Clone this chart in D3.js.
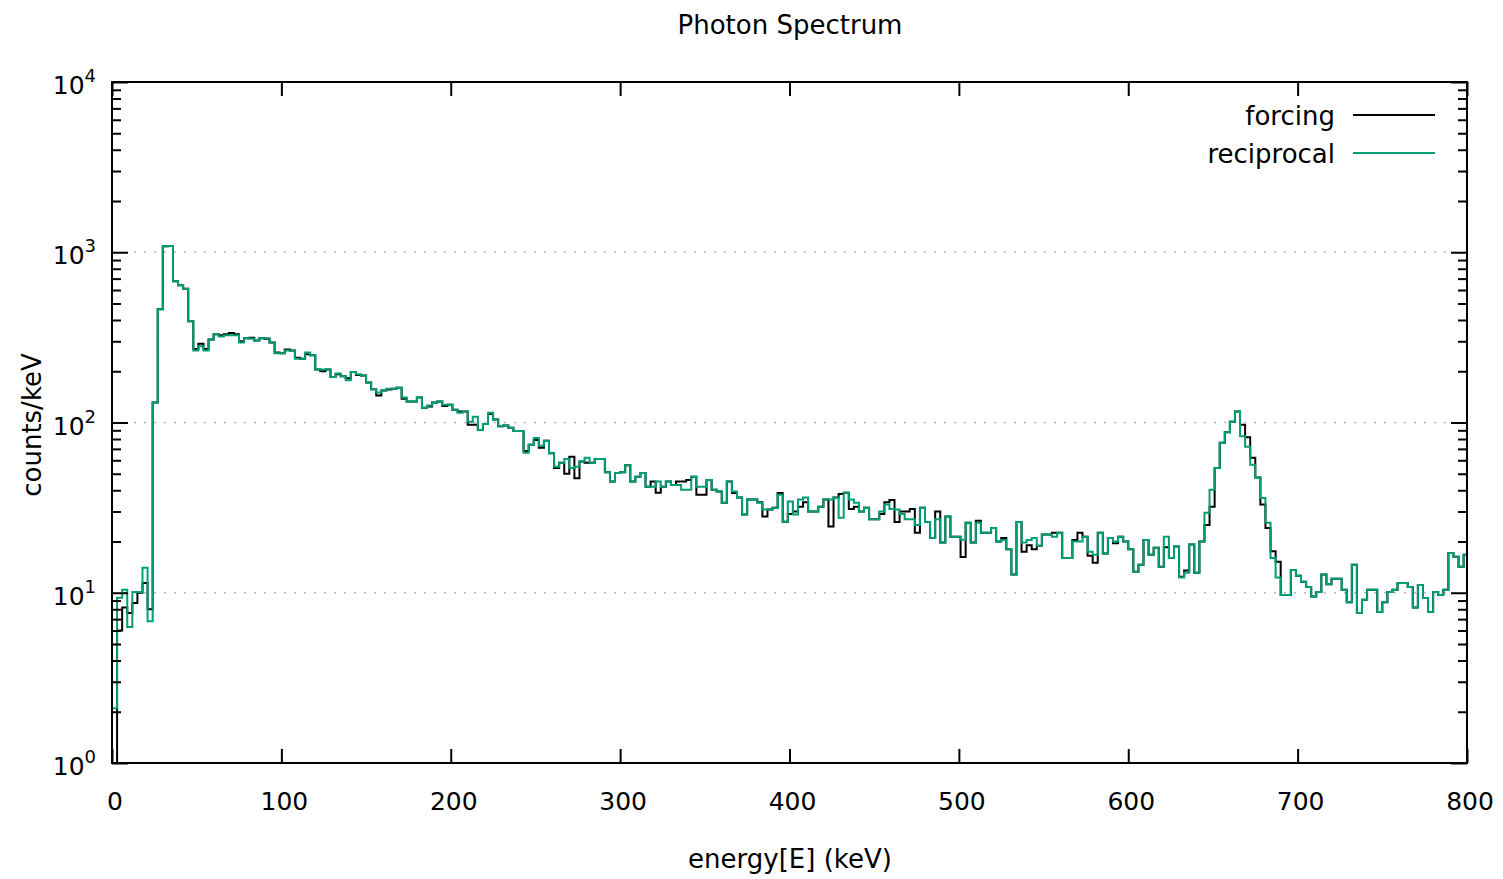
<!DOCTYPE html>
<html><head><meta charset="utf-8">
<script src="https://cdn.jsdelivr.net/npm/d3@7"></script>
<style>
body{margin:0;background:#fff}
svg{display:block}
text{font-family:"DejaVu Sans",sans-serif;fill:#000}
</style>
</head><body>
<svg id="c" width="1503" height="879"></svg>
<script>
// ---- data ----
const binWidth = 3; // keV per histogram bin
const binStart = d3.range(0, 800, binWidth); // 0,3,...,798

const forcing = [
1, 6.0, 8.2, 7.6, 8.7, 10, 11.4, 8.0, 131, 462,
1085, 1090, 676, 640, 610, 393, 270, 290, 270, 307,
330, 325, 330, 335, 330, 300, 313, 315, 303, 313,
310, 295, 258, 255, 268, 265, 240, 237, 252, 248,
205, 200, 205, 185, 192, 187, 182, 198, 190, 189,
172, 157, 144, 154, 156, 158, 160, 138, 133, 133,
140, 122, 124, 131, 133, 125, 127, 119, 116, 116,
97, 97, 90.5, 98, 112, 104, 95, 96, 93, 89,
89, 68, 74, 79, 71, 78, 66, 54, 58, 50,
63, 47, 59, 58, 58, 61, 61, 51, 45, 50.5,
51, 56, 45, 48, 50.5, 42, 45, 38.7, 42, 45,
43, 45, 45, 46, 48, 37.7, 37.7, 46, 40.3, 39.3,
33.8, 45, 38.5, 36.3, 28.8, 35.3, 35.3, 34, 28, 30.8,
31.6, 38.5, 26.1, 29, 30, 32, 34, 30, 30, 32,
35.3, 24.5, 36.3, 38, 38.7, 31, 32, 30, 31.6, 27,
27, 29, 34, 35, 26, 30, 30, 31, 22.5, 31.6,
26, 21, 30, 19.7, 28, 21.3, 21.3, 16.2, 25.8, 19.7,
26.5, 22.5, 22.5, 24, 20, 21, 18, 12.8, 26, 17.4,
19, 18, 18.9, 22, 22, 22.5, 22.5, 16, 16, 20.4,
22.5, 21.3, 16.5, 15, 22.5, 17, 21, 19.5, 21.3, 20,
18, 13.3, 14.6, 20.4, 16.7, 18.4, 14.2, 18.5, 16, 18.7,
12.4, 13.5, 19.2, 13.1, 20, 25, 32, 54, 76, 87.5,
101, 116, 97, 82, 62, 47.5, 33, 24, 17.5, 15.2,
9.7, 9.7, 13.6, 12.6, 11.6, 10.8, 9.5, 10.1, 12.8, 11.2,
12.1, 12.1, 10.4, 8.8, 14.6, 7.6, 9.1, 10.4, 10.4, 7.7,
8.8, 10.1, 10.4, 11.4, 11.4, 10.8, 8.2, 11.1, 9.3, 7.7,
10.1, 9.7, 10.4, 17.1, 16.3, 14.2, 16.7
];

const reciprocal = [
2.1, 9.35, 10.4, 6.3, 10.1, 10.1, 14, 6.8, 131, 462,
1085, 1090, 676, 640, 610, 393, 265, 280, 265, 307,
330, 320, 325, 325, 325, 295, 313, 310, 303, 313,
313, 295, 255, 255, 265, 265, 237, 237, 258, 248,
205, 205, 205, 185, 194, 187, 177, 198, 192, 189,
172, 157, 150, 154, 158, 158, 160, 140, 133, 133,
140, 122, 126, 131, 133, 127, 127, 119, 114, 116,
101, 108, 90.5, 98, 114, 104, 95, 96, 93, 89,
89, 66.5, 74, 81, 73, 78, 66, 55, 58, 61,
54, 55, 59, 62, 58, 61, 61, 51, 45, 50.5,
51, 56, 45, 48, 50.5, 42, 42, 45, 42, 45,
43, 43, 40.3, 40.3, 48, 42, 42, 46, 40.3, 39.3,
33.8, 45, 39.3, 36.3, 28.8, 35.3, 35.3, 33.8, 30.8, 30.8,
31.6, 37.7, 26.1, 34.3, 28.8, 35.3, 36.3, 30, 30, 32,
35.3, 35.3, 36.3, 27.6, 38.7, 35.3, 33.8, 30, 31.6, 27,
27, 30, 33, 31, 30.8, 29, 27, 27, 25, 31.6,
26, 21, 27, 19.7, 28, 21.3, 21.3, 20.5, 25.8, 19.7,
25.8, 22.5, 22.5, 24, 20, 20.4, 18, 12.8, 26, 19.7,
20.4, 21, 18.9, 22, 22, 21.3, 22.5, 16, 16, 20,
20, 21.3, 17.4, 16.7, 22.5, 17, 21, 20, 21.3, 20,
18, 13.3, 14.6, 20.4, 16.7, 18.4, 14.2, 21.3, 16, 18.7,
12.3, 13.1, 19.2, 13.1, 20, 29.5, 40.3, 54, 76, 87.5,
101, 116, 83, 72, 56.5, 47.5, 36, 25.8, 16, 12.3,
9.7, 9.7, 13.6, 12.6, 11.6, 10.8, 9.5, 10.1, 12.8, 11.2,
12.1, 12.1, 10.4, 8.8, 14.6, 7.6, 9.1, 10.4, 10.4, 7.7,
8.8, 10.1, 10.4, 11.4, 11.4, 10.8, 8.2, 11.1, 9.3, 7.7,
10.1, 9.7, 10.4, 17.1, 16.3, 14.2, 16.7
];

const xTicks = [0, 100, 200, 300, 400, 500, 600, 700, 800];
const yExponents = [0, 1, 2, 3, 4];
const gridExponents = [1, 2, 3];
const seriesNames = ["forcing", "reciprocal"];
const seriesColors = ["#000000", "#009e73"];
const titleText = "Photon Spectrum";
const xLabel = "energy[E] (keV)";
const yLabel = "counts/keV";

// ---- layout ----
const W = 1503, H = 879;
const m = {left: 112, right: 1467, top: 82, bottom: 763};
const svg = d3.select("#c");

const x = d3.scaleLinear().domain([0, 800]).range([m.left, m.right]);
const y = d3.scaleLog().domain([1, 1e4]).range([m.bottom, m.top]);

const majorY = yExponents.map(e => Math.pow(10, e));
const minorY = [];
yExponents.slice(0, -1).forEach(e => { for (let k = 2; k <= 9; k++) minorY.push(k * Math.pow(10, e)); });

// grid
svg.append("g").selectAll("line").data(gridExponents.map(e => Math.pow(10, e))).join("line")
  .attr("x1", m.left + 2).attr("x2", m.right - 2)
  .attr("y1", d => y(d)).attr("y2", d => y(d))
  .attr("stroke", "#b8b8b8").attr("stroke-width", 1.5).attr("stroke-dasharray", "2,8");

// data clip
svg.append("clipPath").attr("id", "clip").append("rect")
  .attr("x", m.left).attr("y", m.top).attr("width", m.right - m.left).attr("height", m.bottom - m.top);

function seriesPoints(vals) {
  const pts = binStart.map((e, i) => [e, vals[i]]);
  pts.push([800, vals[vals.length - 1]]);
  return pts;
}
const line = d3.line()
  .x(d => x(d[0]))
  .y(d => y(Math.max(d[1], 1)))
  .curve(d3.curveStepAfter);

[forcing, reciprocal].forEach((vals, i) => {
  svg.append("path")
    .attr("clip-path", "url(#clip)")
    .attr("d", line(seriesPoints(vals)))
    .attr("fill", "none")
    .attr("stroke", seriesColors[i])
    .attr("stroke-width", 2);
});

// axes (ticks inward)
function styleAxis(g) {
  g.select(".domain").remove();
  g.selectAll(".tick line").attr("stroke", "#000").attr("stroke-width", 2);
}
svg.append("g").attr("transform", `translate(${m.left},0)`)
  .call(d3.axisRight(y).tickValues(majorY).tickSize(16).tickFormat(""))
  .call(styleAxis);
svg.append("g").attr("transform", `translate(${m.left},0)`)
  .call(d3.axisRight(y).tickValues(minorY).tickSize(9).tickFormat(""))
  .call(styleAxis);
svg.append("g").attr("transform", `translate(${m.right},0)`)
  .call(d3.axisLeft(y).tickValues(majorY).tickSize(16).tickFormat(""))
  .call(styleAxis);
svg.append("g").attr("transform", `translate(${m.right},0)`)
  .call(d3.axisLeft(y).tickValues(minorY).tickSize(9).tickFormat(""))
  .call(styleAxis);

const xAxis = svg.append("g").attr("transform", `translate(0,${m.bottom})`)
  .call(d3.axisTop(x).tickValues(xTicks).tickSize(14).tickFormat(""))
  .call(styleAxis);
svg.append("g").attr("transform", `translate(0,${m.top})`)
  .call(d3.axisBottom(x).tickValues(xTicks).tickSize(14).tickFormat(""))
  .call(styleAxis);

// x tick labels
svg.append("g").selectAll("text").data(xTicks).join("text")
  .attr("x", d => x(d) + 3).attr("y", m.bottom + 47)
  .attr("text-anchor", "middle").attr("font-size", 25)
  .text(d => d);

// y tick labels with superscript
const yl = svg.append("g").selectAll("text").data(yExponents).join("text")
  .attr("x", 96).attr("y", d => y(Math.pow(10, d)) + 12)
  .attr("text-anchor", "end").attr("font-size", 25);
yl.append("tspan").text("10");
yl.append("tspan").attr("font-size", 18).attr("dy", -12).text(d => d);

// frame
svg.append("rect").attr("x", m.left).attr("y", m.top)
  .attr("width", m.right - m.left).attr("height", m.bottom - m.top)
  .attr("fill", "none").attr("stroke", "#000").attr("stroke-width", 2);

// titles
svg.append("text").attr("x", 790).attr("y", 34).attr("text-anchor", "middle")
  .attr("font-size", 26).text(titleText);
svg.append("text").attr("x", 790).attr("y", 868).attr("text-anchor", "middle")
  .attr("font-size", 26).text(xLabel);
svg.append("text").attr("transform", "translate(41,425) rotate(-90)").attr("text-anchor", "middle")
  .attr("font-size", 26).text(yLabel);

// legend
const legendY = [115, 153];
seriesNames.forEach((n, i) => {
  svg.append("text").attr("x", 1335).attr("y", legendY[i] + 10)
    .attr("text-anchor", "end").attr("font-size", 26).text(n);
  svg.append("line").attr("x1", 1353).attr("x2", 1435)
    .attr("y1", legendY[i]).attr("y2", legendY[i])
    .attr("stroke", seriesColors[i]).attr("stroke-width", 2);
});
</script>
</body></html>
